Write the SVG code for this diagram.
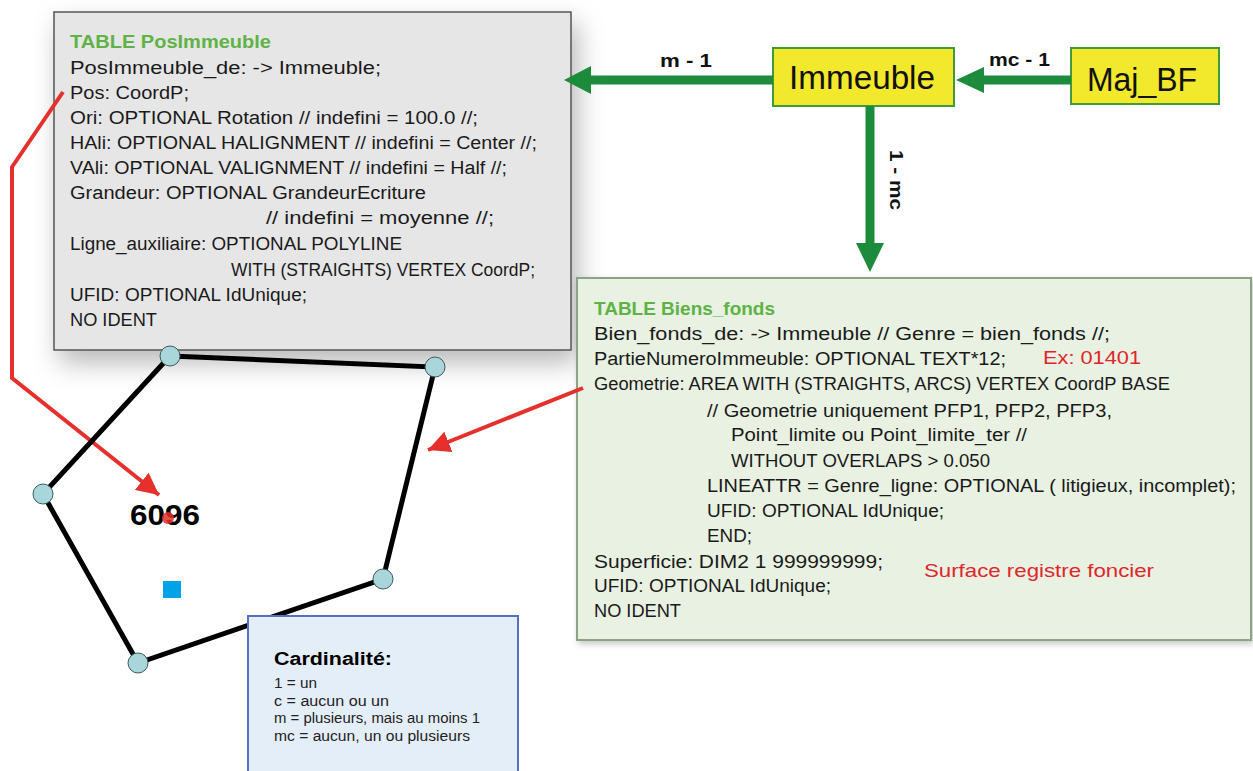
<svg xmlns="http://www.w3.org/2000/svg" width="1253" height="771" viewBox="0 0 1253 771">
<style>
text{font-family:"Liberation Sans",Arial,sans-serif}
.code{font-size:18px;fill:#1a1a1a}
.title{font-size:18px;font-weight:bold;fill:#5fb346}
.red{font-size:19px;fill:#e0252b}
.card{font-size:14px;fill:#222}
.cardt{font-size:18px;font-weight:bold;fill:#000}
.lbl{font-size:19px;font-weight:bold;fill:#111}
.ent{font-size:34px;fill:#111}
.ebox{fill:#f2e82c;stroke:#3f9c3a;stroke-width:2}
.gline{stroke:#1c8c3c;stroke-width:9;fill:none}
.ghead{fill:#1c8c3c}
.rline{stroke:#e5302b;stroke-width:4;fill:none}
.edge{stroke:#000;stroke-width:5;fill:none}
.vtx{fill:#a9d6da;stroke:#3d5a5e;stroke-width:1}
</style>
<defs>
<filter id="sh" x="-10%" y="-10%" width="130%" height="135%">
<feDropShadow dx="6" dy="12" stdDeviation="13" flood-color="#000" flood-opacity="0.28"/>
</filter>
<filter id="sh2" x="-5%" y="-5%" width="110%" height="115%">
<feDropShadow dx="2" dy="3" stdDeviation="3" flood-color="#000" flood-opacity="0.22"/>
</filter>
<marker id="rarrow" markerUnits="userSpaceOnUse" markerWidth="24" markerHeight="22" refX="22" refY="11" orient="auto">
<path d="M0,0 L22,11 L0,22 Z" fill="#e5302b"/>
</marker>
</defs>
<rect width="1253" height="771" fill="#fff"/>

<g id="PosImmeuble">
<rect x="54" y="12" width="517" height="338" fill="#e6e6e6" stroke="#555" stroke-width="1.5" filter="url(#sh)"/>
<text class="title" x="70" y="48" textLength="201" lengthAdjust="spacingAndGlyphs">TABLE PosImmeuble</text>
<text class="code" x="70" y="74" textLength="311" lengthAdjust="spacingAndGlyphs">PosImmeuble_de: -&gt; Immeuble;</text>
<text class="code" x="70" y="99" textLength="119" lengthAdjust="spacingAndGlyphs">Pos: CoordP;</text>
<text class="code" x="70" y="124" textLength="408" lengthAdjust="spacingAndGlyphs">Ori: OPTIONAL Rotation // indefini = 100.0 //;</text>
<text class="code" x="70" y="149" textLength="467" lengthAdjust="spacingAndGlyphs">HAli: OPTIONAL HALIGNMENT // indefini = Center //;</text>
<text class="code" x="70" y="174" textLength="437" lengthAdjust="spacingAndGlyphs">VAli: OPTIONAL VALIGNMENT // indefini = Half //;</text>
<text class="code" x="70" y="199" textLength="356" lengthAdjust="spacingAndGlyphs">Grandeur: OPTIONAL GrandeurEcriture</text>
<text class="code" x="266" y="224" textLength="228" lengthAdjust="spacingAndGlyphs">// indefini = moyenne //;</text>
<text class="code" x="70" y="250" textLength="332" lengthAdjust="spacingAndGlyphs">Ligne_auxiliaire: OPTIONAL POLYLINE</text>
<text class="code" x="231" y="276" textLength="304" lengthAdjust="spacingAndGlyphs">WITH (STRAIGHTS) VERTEX CoordP;</text>
<text class="code" x="70" y="301" textLength="237" lengthAdjust="spacingAndGlyphs">UFID: OPTIONAL IdUnique;</text>
<text class="code" x="70" y="326" textLength="87" lengthAdjust="spacingAndGlyphs">NO IDENT</text>
</g>

<g id="Biens_fonds">
<rect x="577" y="278" width="674" height="362" fill="#e8f1e2" stroke="#8aa585" stroke-width="2" filter="url(#sh2)"/>
<text class="title" x="594" y="315" textLength="181" lengthAdjust="spacingAndGlyphs">TABLE Biens_fonds</text>
<text class="code" x="594" y="340" textLength="516" lengthAdjust="spacingAndGlyphs">Bien_fonds_de: -&gt; Immeuble // Genre = bien_fonds //;</text>
<text class="code" x="594" y="365" textLength="412" lengthAdjust="spacingAndGlyphs">PartieNumeroImmeuble: OPTIONAL TEXT*12;</text>
<text class="red" x="1043" y="364" textLength="98" lengthAdjust="spacingAndGlyphs">Ex: 01401</text>
<text class="code" x="594" y="390" textLength="576" lengthAdjust="spacingAndGlyphs">Geometrie: AREA WITH (STRAIGHTS, ARCS) VERTEX CoordP BASE</text>
<text class="code" x="707" y="417" textLength="405" lengthAdjust="spacingAndGlyphs">// Geometrie uniquement PFP1, PFP2, PFP3,</text>
<text class="code" x="731" y="441" textLength="296" lengthAdjust="spacingAndGlyphs">Point_limite ou Point_limite_ter //</text>
<text class="code" x="731" y="467" textLength="259" lengthAdjust="spacingAndGlyphs">WITHOUT OVERLAPS &gt; 0.050</text>
<text class="code" x="707" y="492" textLength="529" lengthAdjust="spacingAndGlyphs">LINEATTR = Genre_ligne: OPTIONAL ( litigieux, incomplet);</text>
<text class="code" x="707" y="517" textLength="237" lengthAdjust="spacingAndGlyphs">UFID: OPTIONAL IdUnique;</text>
<text class="code" x="707" y="542" textLength="45" lengthAdjust="spacingAndGlyphs">END;</text>
<text class="code" x="594" y="568" textLength="289" lengthAdjust="spacingAndGlyphs">Superficie: DIM2 1 999999999;</text>
<text class="red" x="924" y="577" textLength="230" lengthAdjust="spacingAndGlyphs">Surface registre foncier</text>
<text class="code" x="594" y="592" textLength="237" lengthAdjust="spacingAndGlyphs">UFID: OPTIONAL IdUnique;</text>
<text class="code" x="594" y="617" textLength="87" lengthAdjust="spacingAndGlyphs">NO IDENT</text>
</g>

<g id="Immeuble">
<rect class="ebox" x="773" y="48" width="181" height="58"/>
<text class="ent" x="789" y="89" textLength="146" lengthAdjust="spacingAndGlyphs">Immeuble</text>
</g>

<g id="Maj_BF">
<rect class="ebox" x="1071" y="48" width="148" height="56"/>
<text class="ent" x="1087" y="91" font-size="35" textLength="110" lengthAdjust="spacingAndGlyphs">Maj_BF</text>
</g>

<g id="connectors">
<line class="gline" x1="773" y1="80" x2="588" y2="80"/>
<polygon class="ghead" points="591,66 564,80 591,94"/>
<text class="lbl" x="660" y="67" textLength="52" lengthAdjust="spacingAndGlyphs">m - 1</text>
<line class="gline" x1="1071" y1="80" x2="981" y2="80"/>
<polygon class="ghead" points="984,67 956,80 984,93"/>
<text class="lbl" x="989" y="66" textLength="61" lengthAdjust="spacingAndGlyphs">mc - 1</text>
<line class="gline" x1="870" y1="106" x2="870" y2="246"/>
<polygon class="ghead" points="856,243 870,272 884,243"/>
<text class="lbl" x="890" y="150" textLength="60" lengthAdjust="spacingAndGlyphs" transform="rotate(90 890 150)">1 - mc</text>
<polyline class="rline" points="63,92 12,167 12,378 159,495" marker-end="url(#rarrow)"/>
<line class="rline" x1="583" y1="388" x2="428" y2="450" marker-end="url(#rarrow)"/>
</g>

<g id="parcelle">
<polyline class="edge" points="170,356 435,367 383,579 138,663 43,494 170,356"/>
<circle class="vtx" cx="170" cy="356" r="10"/>
<circle class="vtx" cx="435" cy="367" r="10"/>
<circle class="vtx" cx="383" cy="579" r="10"/>
<circle class="vtx" cx="138" cy="663" r="10"/>
<circle class="vtx" cx="43" cy="494" r="10"/>
<text x="130" y="525" font-size="30" font-weight="bold" fill="#000" textLength="70" lengthAdjust="spacingAndGlyphs">6096</text>
<circle cx="168" cy="518" r="6" fill="#e5302b" opacity="0.85"/>
<rect x="163" y="581" width="18" height="17" fill="#00a3e8"/>
</g>

<g id="Cardinalite">
<rect x="248" y="616" width="270" height="160" fill="#e4eef9" stroke="#5670bd" stroke-width="2"/>
<text class="cardt" x="274" y="665" textLength="118" lengthAdjust="spacingAndGlyphs">Cardinalité:</text>
<text class="card" x="274" y="688" textLength="43" lengthAdjust="spacingAndGlyphs">1 = un</text>
<text class="card" x="274" y="706" textLength="115" lengthAdjust="spacingAndGlyphs">c = aucun ou un</text>
<text class="card" x="274" y="723" textLength="206" lengthAdjust="spacingAndGlyphs">m = plusieurs, mais au moins 1</text>
<text class="card" x="274" y="741" textLength="196" lengthAdjust="spacingAndGlyphs">mc = aucun, un ou plusieurs</text>
</g>
</svg>
